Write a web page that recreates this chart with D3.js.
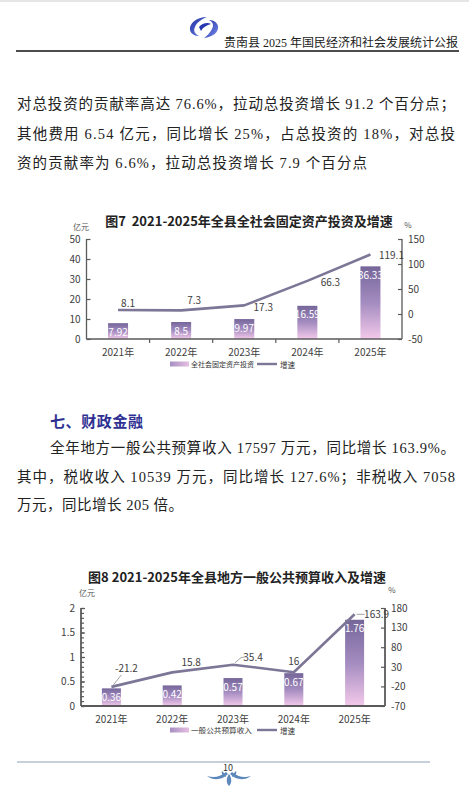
<!DOCTYPE html>
<html><head><meta charset="utf-8">
<script src="https://cdn.jsdelivr.net/npm/d3@7"></script>
<style>html,body{margin:0;padding:0;background:#fff;}svg{display:block;}</style>
</head><body>
<script>
// ---------- data ----------
const years = ["2021年","2022年","2023年","2024年","2025年"];
const investValues = [7.92, 8.5, 9.97, 16.59, 36.33];
const investGrowth = [8.1, 7.3, 17.3, 66.3, 119.1];
const investLeftTicks = [0,10,20,30,40,50];
const investRightTicks = [-50,0,50,100,150];
const budgetValues = [0.36, 0.42, 0.57, 0.67, 1.76];
const budgetGrowth = [-21.2, 15.8, 35.4, 16, 163.9];
const budgetLeftTicks = [0,0.5,1,1.5,2];
const budgetRightTicks = [-70,-20,30,80,130,180];
const headerText = "贵南县 2025 年国民经济和社会发展统计公报";
const para1 = ["对总投资的贡献率高达 76.6%，拉动总投资增长 91.2 个百分点；",
               "其他费用 6.54 亿元，同比增长 25%，占总投资的 18%，对总投",
               "资的贡献率为 6.6%，拉动总投资增长 7.9 个百分点"];
const sectionTitle = "七、财政金融";
const para2 = ["全年地方一般公共预算收入 17597 万元，同比增长 163.9%。",
               "其中，税收收入 10539 万元，同比增长 127.6%；非税收入 7058",
               "万元，同比增长 205 倍。"];

const W = 469, H = 801;
const svg = d3.select("body").append("svg").attr("width", W).attr("height", H);
const defs = svg.append("defs");
svg.append("rect").attr("width", W).attr("height", H).attr("fill", "#fff");
svg.append("rect").attr("width", W).attr("height", 2).attr("fill", "#e6e6e6");

const bodyFont = "'Liberation Serif','Noto Sans CJK SC',serif";
const cjk = "'Noto Sans CJK SC','Noto Sans',sans-serif";
const chartFont = "'Noto Sans CJK SC','Noto Sans',sans-serif";

// gradients
const g1 = defs.append("linearGradient").attr("id","barGrad").attr("x1",0).attr("y1",0).attr("x2",0).attr("y2",1);
g1.append("stop").attr("offset","0%").attr("stop-color","#75669a");
g1.append("stop").attr("offset","50%").attr("stop-color","#a48cc0");
g1.append("stop").attr("offset","100%").attr("stop-color","#f3c9ea");
const g2 = defs.append("linearGradient").attr("id","legGrad").attr("x1",0).attr("y1",0).attr("x2",1).attr("y2",0);
g2.append("stop").attr("offset","0%").attr("stop-color","#a58fc2");
g2.append("stop").attr("offset","100%").attr("stop-color","#e7bfe2");
const g3 = defs.append("linearGradient").attr("id","logoGrad").attr("x1",0).attr("y1",0).attr("x2",1).attr("y2",1);
g3.append("stop").attr("offset","0%").attr("stop-color","#1b2a9c");
g3.append("stop").attr("offset","100%").attr("stop-color","#7b8ef0");

// ---------- header ----------
const logo = svg.append("g");
logo.append("path").attr("fill","url(#logoGrad)")
  .attr("d","M207,17 C196,17 189,24 190,30 C191,34 195,36 199,36 C195,34 193,31 195,27 C197,22 202,19 207,17 Z");
logo.append("path").attr("fill","url(#logoGrad)")
  .attr("d","M204,38 C213,37 219,32 218,26 C217,22 213,20 209,20 C213,22 214,25 212,29 C210,33 207,36 204,38 Z");
logo.append("path").attr("fill","#2636b0")
  .attr("d","M199,27 C202,23 208,22 211,24 C207,25 203,27 201,31 Z");
svg.append("text").attr("x",458).attr("y",47).attr("text-anchor","end")
  .attr("font-family","'Liberation Serif','Noto Sans CJK SC',serif").attr("font-size",12).attr("fill","#222")
  .text(headerText);
svg.append("line").attr("x1",16).attr("x2",459).attr("y1",51).attr("y2",51).attr("stroke","#111").attr("stroke-width",1.3);

// ---------- paragraphs ----------
function para(lines, xs, ys, lens) {
  lines.forEach((t,i)=>{
    const el = svg.append("text").attr("x",xs[i]).attr("y",ys[i])
      .attr("font-family",bodyFont).attr("font-size",14.5).attr("fill","#222")
      .attr("dominant-baseline","central").text(t);
    if (lens[i]) el.attr("textLength",lens[i]).attr("lengthAdjust","spacing");
  });
}
para(para1, [17,17,17], [104,134,163], [438,438,350]);
svg.append("text").attr("x",50).attr("y",420).attr("dominant-baseline","central")
  .attr("font-family",cjk).attr("font-weight","bold").attr("font-size",15).attr("fill","#2e3192")
  .attr("textLength",93).attr("lengthAdjust","spacing").text(sectionTitle);
para(para2, [50,17,17], [448,477,505], [405,438,166]);

// ---------- chart helper ----------
function drawChart(o) {
  const g = svg.append("g");
  const x = d3.scaleBand().domain(years).range([o.x0, o.x1]);
  const yL = d3.scaleLinear().domain(o.leftDomain).range([o.yBottom, o.yTop]);
  const yR = d3.scaleLinear().domain(o.rightDomain).range([o.yBottom, o.yTop]);
  const axisColor = "#5a5a5a";

  g.append("text").attr("x",o.titleX).attr("y",o.titleY).attr("text-anchor","middle")
    .attr("dominant-baseline","central").attr("font-family",chartFont).attr("font-weight",o.titleWeight)
    .attr("font-size",13).attr("fill","#222").text(o.title);
  g.append("text").attr("x",o.unitLX).attr("y",o.unitLY).attr("text-anchor","middle").attr("dominant-baseline","central")
    .attr("font-family",chartFont).attr("font-size",8).attr("fill","#555").text("亿元");
  g.append("text").attr("x",o.unitRX).attr("y",o.unitRY).attr("text-anchor","middle").attr("dominant-baseline","central")
    .attr("font-family",chartFont).attr("font-size",8).attr("fill","#555").text("%");

  // bars
  g.selectAll("rect.bar").data(o.values).enter().append("rect")
    .attr("x",(d,i)=>x(years[i]) + x.bandwidth()/2 - o.barW/2)
    .attr("y",d=>yL(d)).attr("width",o.barW).attr("height",d=>yL(0)-yL(d))
    .attr("fill","url(#barGrad)");
  g.selectAll("text.bl").data(o.values).enter().append("text")
    .attr("x",(d,i)=>x(years[i]) + x.bandwidth()/2)
    .attr("y",d=>yL(d)+8).attr("text-anchor","middle").attr("dominant-baseline","central")
    .attr("font-family",chartFont).attr("font-size",10).attr("fill","#fff").text(d=>d);

  // left axis
  const la = g.append("g").attr("transform",`translate(${o.x0},0)`)
    .call(d3.axisRight(yL).tickValues(o.leftTicks).tickSize(4).tickFormat(d=>d));
  la.select(".domain").remove();
  la.selectAll("text").attr("x",-6).attr("text-anchor","end");
  if (o.minorLeft) {
    g.append("g").attr("transform",`translate(${o.x0},0)`)
      .call(d3.axisRight(yL).ticks(20).tickSize(3).tickFormat(""))
      .select(".domain").remove();
  }
  // right axis
  const ra = g.append("g").attr("transform",`translate(${o.x1},0)`)
    .call(d3.axisLeft(yR).tickValues(o.rightTicks).tickSize(4).tickFormat(d=>d));
  ra.select(".domain").remove();
  ra.selectAll("text").attr("x",6).attr("text-anchor","start");
  g.selectAll(".tick line").attr("stroke",axisColor).attr("stroke-width",1.2);
  g.selectAll(".tick text").attr("font-family",chartFont).attr("font-size",10).attr("fill","#404040");

  // axis lines
  g.append("line").attr("x1",o.x0).attr("x2",o.x0).attr("y1",o.yTop).attr("y2",o.yBottom).attr("stroke",axisColor).attr("stroke-width",o.axisW);
  g.append("line").attr("x1",o.x1).attr("x2",o.x1).attr("y1",o.yTop).attr("y2",o.yBottom).attr("stroke",axisColor).attr("stroke-width",o.axisW);
  g.append("line").attr("x1",o.x0).attr("x2",o.x1).attr("y1",o.yBottom).attr("y2",o.yBottom).attr("stroke",axisColor).attr("stroke-width",o.axisW);
  if (o.catTicks) {
    g.selectAll("line.ct").data(years.slice(1)).enter().append("line")
      .attr("x1",d=>x(d)).attr("x2",d=>x(d)).attr("y1",o.yBottom).attr("y2",o.yBottom+4)
      .attr("stroke",axisColor).attr("stroke-width",1.2);
  }
  // x labels
  g.selectAll("text.xl").data(years).enter().append("text")
    .attr("x",d=>x(d)+x.bandwidth()/2).attr("y",o.yBottom+12).attr("text-anchor","middle")
    .attr("dominant-baseline","central").attr("font-family",chartFont).attr("font-size",10).attr("fill","#404040").text(d=>d);

  // line
  const pts = o.growth.map((d,i)=>[x(years[i])+x.bandwidth()/2, yR(d)]);
  g.append("path").attr("d",d3.line()(pts)).attr("fill","none").attr("stroke","#7d7697").attr("stroke-width",2.6).attr("stroke-linejoin","round");
  // leaders
  (o.leaders||[]).forEach((l,i)=>{
    if (!l) return;
    const p = pts[i];
    g.append("polyline").attr("points",l.map(q=>[p[0]+q[0],p[1]+q[1]].join(",")).join(" "))
      .attr("fill","none").attr("stroke","#8a8a8a").attr("stroke-width",0.8);
  });
  g.selectAll("text.gl").data(o.growth).enter().append("text")
    .attr("x",(d,i)=>pts[i][0]+o.labelOff[i][0]).attr("y",(d,i)=>pts[i][1]+o.labelOff[i][1])
    .attr("text-anchor","middle").attr("dominant-baseline","central")
    .attr("font-family",chartFont).attr("font-size",10).attr("fill","#404040").text(d=>d);

  // legend
  g.append("rect").attr("x",170).attr("y",o.legendY-2.5).attr("width",19).attr("height",5).attr("fill","url(#legGrad)");
  g.append("text").attr("x",191).attr("y",o.legendY).attr("dominant-baseline","central")
    .attr("font-family",chartFont).attr("font-size",7.2).attr("fill","#333")
    .attr("textLength",o.legendLen).attr("lengthAdjust","spacingAndGlyphs").text(o.legendBar);
  g.append("line").attr("x1",257).attr("x2",277).attr("y1",o.legendY).attr("y2",o.legendY).attr("stroke","#7d7697").attr("stroke-width",2.4);
  g.append("text").attr("x",280).attr("y",o.legendY).attr("dominant-baseline","central")
    .attr("font-family",chartFont).attr("font-size",7.5).attr("fill","#333").text("增速");
}

drawChart({
  title:"图7\u00a0\u00a02021-2025年全县全社会固定资产投资及增速", titleX:249, titleY:220, titleWeight:"bold",
  unitLX:81, unitLY:226, unitRX:408, unitRY:224.5,
  x0:86.5, x1:402, yTop:239, yBottom:339,
  leftDomain:[0,50], rightDomain:[-50,150], leftTicks:investLeftTicks, rightTicks:investRightTicks,
  values:investValues, growth:investGrowth, barW:20, axisW:1.3, catTicks:true, minorLeft:false,
  labelOff:[[10,-7],[13,-11],[19,1],[23,1],[21,0]],
  legendY:364, legendBar:"全社会固定资产投资", legendLen:63
});

drawChart({
  title:"图8 2021-2025年全县地方一般公共预算收入及增速", titleX:237, titleY:576, titleWeight:"600",
  unitLX:87, unitLY:592, unitRX:392, unitRY:589,
  x0:81, x1:385, yTop:608, yBottom:706,
  leftDomain:[0,2], rightDomain:[-70,180], leftTicks:budgetLeftTicks, rightTicks:budgetRightTicks,
  values:budgetValues, growth:budgetGrowth, barW:19, axisW:1.8, catTicks:false, minorLeft:true,
  labelOff:[[15,-19],[19,-11],[20,-8],[0,-12],[22,-1]],
  leaders:[[[2,-2],[10,-12]], null, [[2,-2],[8,-7],[13,-8]], null, [[2,0],[10,0]]],
  legendY:730, legendBar:"一般公共预算收入", legendLen:61
});

// ---------- footer ----------
svg.append("line").attr("x1",17).attr("x2",430).attr("y1",762).attr("y2",762).attr("stroke","#8ea2b6").attr("stroke-width",1.2);
svg.append("text").attr("x",228).attr("y",767).attr("text-anchor","middle").attr("dominant-baseline","central")
  .attr("font-family",chartFont).attr("font-size",9).attr("fill","#333").text("10");
const orn = svg.append("g").attr("fill","#5d88bb");
orn.append("path").attr("d","M207,776 C214,778 220,777 226,772 L228,774 C222,780 214,781 207,776 Z");
orn.append("path").attr("d","M251,776 C244,778 238,777 232,772 L230,774 C236,780 244,781 251,776 Z");
orn.append("path").attr("d","M229,774 C232,778 232,783 229,786 C226,783 226,778 229,774 Z");
orn.append("path").attr("d","M222,771 C224,773 226,775 226,777 C223,776 221,774 222,771 Z");
orn.append("path").attr("d","M236,771 C234,773 232,775 232,777 C235,776 237,774 236,771 Z");
</script>
</body></html>
